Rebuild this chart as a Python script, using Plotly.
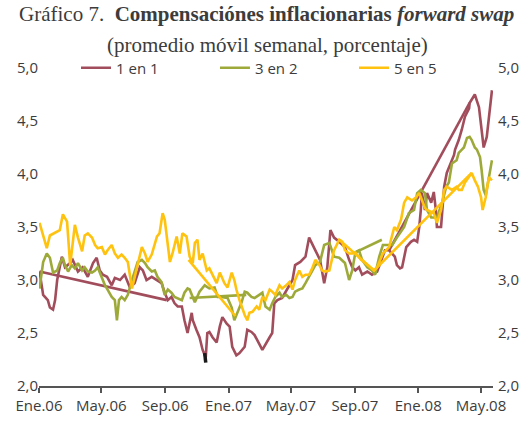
"""Gráfico 7: compensaciones inflacionarias forward swap"""
import plotly.graph_objects as go

# ---------------- datos ----------------
fechas_1en1 = [
    "2006-01-02", "2006-01-09", "2006-01-18", "2006-01-22", "2006-01-28", "2006-02-01", "2006-02-05",
    "2006-02-14", "2006-02-20", "2006-03-02", "2006-03-07", "2006-03-17", "2006-03-26", "2006-04-05",
    "2006-04-15", "2006-04-22", "2006-04-28", "2006-05-04", "2006-05-12", "2006-05-21", "2006-05-27",
    "2006-06-06", "2006-06-15", "2006-06-25", "2006-07-04", "2006-07-14", "2006-07-20", "2006-07-27",
    "2006-08-06", "2006-08-16", "2006-08-25", "2006-08-31", "2006-09-06", "2006-09-13", "2006-09-19",
    "2006-09-25", "2006-10-03", "2006-10-08", "2006-10-14", "2006-10-22", "2006-10-24", "2006-10-31",
    "2006-11-06", "2006-11-12", "2006-11-18", "2006-11-21", "2006-11-25", "2006-12-01", "2006-12-09",
    "2006-12-15", "2006-12-20", "2006-12-28", "2007-01-03", "2007-01-08", "2007-01-16", "2007-01-22",
    "2007-02-01", "2007-02-06", "2007-02-14", "2007-02-20", "2007-02-25", "2007-03-07", "2007-03-21",
    "2007-03-26", "2007-03-30", "2007-04-05", "2007-04-14", "2007-04-24", "2007-05-04", "2007-05-09",
    "2007-05-19", "2007-05-29", "2007-06-05", "2007-06-17", "2007-06-26", "2007-07-04", "2007-07-10",
    "2007-07-16", "2007-07-23", "2007-08-02", "2007-08-08", "2007-08-13", "2007-08-21", "2007-08-27",
    "2007-09-02", "2007-09-09", "2007-09-15", "2007-09-25", "2007-10-04", "2007-10-14", "2007-10-23",
    "2007-10-29", "2007-11-06", "2007-11-12", "2007-11-17", "2007-11-21", "2007-11-27", "2007-12-01",
    "2007-12-09", "2007-12-18", "2007-12-24", "2007-12-30", "2008-01-03", "2008-01-06", "2008-01-08",
    "2008-01-14", "2008-01-18", "2008-01-26", "2008-01-31", "2008-02-04", "2008-02-06", "2008-02-14",
    "2008-02-16", "2008-02-20", "2008-02-25", "2008-03-04", "2008-03-10", "2008-03-12", "2008-03-19",
    "2008-03-25", "2008-03-31", "2008-04-08", "2008-04-09", "2008-04-19", "2008-04-27", "2008-05-02",
    "2008-05-06", "2008-05-12", "2008-05-16", "2008-05-22",
]
valores_1en1 = [
    3.08, 2.86, 2.81, 2.74, 2.72, 2.81, 3.00,
    3.22, 3.12, 3.16, 3.19, 3.08, 3.12, 3.03,
    3.16, 3.21, 3.09, 3.05, 3.03, 2.95, 3.02,
    3.00, 3.05, 2.93, 2.97, 3.12, 3.09, 3.00,
    3.03, 3.00, 2.97, 2.88, 2.81, 2.84, 2.78,
    2.75, 2.75, 2.62, 2.50, 2.69, 2.62, 2.53,
    2.46, 2.34, 2.27, 2.50, 2.51, 2.46, 2.41,
    2.56, 2.65, 2.59, 2.56, 2.37, 2.29, 2.31,
    2.37, 2.53, 2.51, 2.48, 2.43, 2.34, 2.46,
    2.50, 2.78, 2.81, 2.83, 2.91, 3.00, 3.14,
    3.17, 3.22, 3.40, 3.28, 3.19, 2.97, 3.12,
    3.47, 3.40, 3.36, 3.33, 3.31, 3.19, 3.12,
    3.09, 3.12, 3.05, 3.08, 3.05, 3.08, 3.20,
    3.28, 3.28, 3.25, 3.22, 3.14, 3.11, 3.12,
    3.31, 3.36, 3.38, 3.36, 3.50, 3.66, 3.82,
    3.66, 3.82, 3.73, 3.83, 3.66, 3.50, 3.50,
    3.66, 3.88, 4.01, 4.10, 4.18, 4.23, 4.32,
    4.42, 4.54, 4.62, 4.67, 4.75, 4.63, 4.42,
    4.25, 4.35, 4.54, 4.79,
]
# tramos rectos que aparecen en el original (datos fuera de orden)
saltos_1en1_fechas = [["2006-01-02", "2006-09-04"], ["2007-11-06", "2008-04-09"]]
saltos_1en1_valores = [[3.08, 2.81], [3.28, 4.67]]

fechas_3en2 = [
    "2006-01-02", "2006-01-09", "2006-01-16", "2006-01-22", "2006-01-28", "2006-02-05", "2006-02-10",
    "2006-02-16", "2006-02-20", "2006-02-26", "2006-03-05", "2006-03-11", "2006-03-17", "2006-03-25",
    "2006-03-30", "2006-04-05", "2006-04-13", "2006-04-19", "2006-04-24", "2006-05-02", "2006-05-08",
    "2006-05-13", "2006-05-21", "2006-05-27", "2006-05-31", "2006-06-04", "2006-06-09", "2006-06-15",
    "2006-06-21", "2006-06-29", "2006-07-04", "2006-07-10", "2006-07-18", "2006-07-24", "2006-07-29",
    "2006-08-06", "2006-08-12", "2006-08-17", "2006-08-25", "2006-08-31", "2006-09-06", "2006-09-13",
    "2006-09-19", "2006-09-25", "2006-10-03", "2006-10-08", "2006-10-14", "2006-10-18", "2006-10-28",
    "2006-11-06", "2006-11-16", "2006-11-25", "2006-12-05", "2006-12-11", "2006-12-18", "2006-12-30",
    "2007-01-07", "2007-01-12", "2007-01-18", "2007-01-26", "2007-02-01", "2007-02-06", "2007-02-14",
    "2007-02-20", "2007-03-01", "2007-03-07", "2007-03-13", "2007-03-21", "2007-03-26", "2007-04-01",
    "2007-04-09", "2007-04-14", "2007-04-22", "2007-04-28", "2007-05-04", "2007-05-09", "2007-05-17",
    "2007-05-23", "2007-05-29", "2007-06-05", "2007-06-11", "2007-06-17", "2007-06-26", "2007-07-04",
    "2007-07-14", "2007-07-23", "2007-08-02", "2007-08-13", "2007-08-21", "2007-08-27", "2007-09-02",
    "2007-09-09", "2007-09-15", "2007-09-25", "2007-10-04", "2007-10-10", "2007-10-18", "2007-10-25",
    "2007-11-06", "2007-11-12", "2007-11-21", "2007-12-05", "2007-12-14", "2007-12-24", "2007-12-30",
    "2008-01-06", "2008-01-14", "2008-01-18", "2008-01-26", "2008-02-06", "2008-02-16", "2008-02-24",
    "2008-02-29", "2008-03-06", "2008-03-15", "2008-03-19", "2008-03-25", "2008-03-29", "2008-04-04",
    "2008-04-09", "2008-04-13", "2008-04-19", "2008-04-23", "2008-04-29", "2008-05-02", "2008-05-06",
    "2008-05-10", "2008-05-16", "2008-05-22",
]
valores_3en2 = [
    2.92, 3.17, 3.25, 3.21, 3.07, 3.09, 3.16,
    3.21, 3.14, 3.08, 3.14, 3.11, 3.16, 3.09,
    3.12, 3.08, 3.07, 3.09, 3.12, 3.02, 2.95,
    2.91, 2.84, 2.81, 2.62, 2.81, 2.84, 2.81,
    2.86, 3.00, 3.07, 3.17, 3.19, 3.16, 3.12,
    3.08, 3.09, 3.03, 2.98, 2.86, 2.91, 2.88,
    2.84, 2.83, 2.81, 2.88, 2.92, 2.91, 2.79,
    2.89, 2.95, 2.92, 2.93, 2.84, 2.84, 2.83,
    2.74, 2.62, 2.69, 2.79, 2.89, 2.88, 2.84,
    2.83, 2.86, 2.88, 2.75, 2.72, 2.78, 2.84,
    2.88, 2.84, 2.86, 2.83, 2.84, 2.89, 2.91,
    2.92, 2.97, 3.03, 3.09, 3.14, 3.17, 3.33,
    3.35, 3.22, 3.21, 3.16, 3.00, 3.09, 3.26,
    3.28, 3.19, 3.12, 3.09, 3.05, 3.22, 3.33,
    3.33, 3.33, 3.40, 3.50, 3.63, 3.66, 3.82,
    3.85, 3.82, 3.66, 3.59, 3.59, 3.73, 3.88,
    3.92, 4.10, 4.13, 4.20, 4.23, 4.25, 4.34,
    4.35, 4.32, 4.25, 4.23, 4.16, 4.04, 3.85,
    3.80, 3.97, 4.13,
]
saltos_3en2_fechas = [["2006-10-18", "2007-02-04"], ["2007-09-02", "2007-10-23"]]
saltos_3en2_valores = [[2.83, 2.86], [3.26, 3.38]]

fechas_5en5 = [
    "2006-01-02", "2006-01-09", "2006-01-16", "2006-01-22", "2006-02-01", "2006-02-10", "2006-02-16",
    "2006-02-24", "2006-03-02", "2006-03-07", "2006-03-11", "2006-03-17", "2006-03-25", "2006-03-30",
    "2006-04-05", "2006-04-13", "2006-04-19", "2006-04-24", "2006-05-02", "2006-05-08", "2006-05-13",
    "2006-05-21", "2006-05-27", "2006-06-02", "2006-06-09", "2006-06-15", "2006-06-21", "2006-06-29",
    "2006-07-04", "2006-07-10", "2006-07-18", "2006-07-24", "2006-07-29", "2006-08-06", "2006-08-16",
    "2006-08-21", "2006-08-27", "2006-08-31", "2006-09-06", "2006-09-10", "2006-09-15", "2006-09-23",
    "2006-09-29", "2006-10-04", "2006-10-12", "2006-10-18", "2006-10-24", "2006-10-28", "2006-11-02",
    "2006-11-06", "2006-11-12", "2006-11-20", "2006-11-25", "2006-12-01", "2006-12-09", "2006-12-15",
    "2006-12-20", "2006-12-24", "2006-12-30", "2007-01-07", "2007-01-12", "2007-01-16", "2007-01-22",
    "2007-01-26", "2007-02-01", "2007-02-06", "2007-02-10", "2007-02-16", "2007-02-24", "2007-03-01",
    "2007-03-07", "2007-03-13", "2007-03-21", "2007-03-26", "2007-04-01", "2007-04-09", "2007-04-14",
    "2007-04-22", "2007-04-28", "2007-05-04", "2007-05-09", "2007-05-17", "2007-05-23", "2007-05-29",
    "2007-06-05", "2007-06-11", "2007-06-17", "2007-06-25", "2007-06-30", "2007-07-06", "2007-07-14",
    "2007-07-23", "2007-08-02", "2007-08-08", "2007-08-13", "2007-08-21", "2007-08-27", "2007-09-02",
    "2007-09-13", "2007-09-21", "2007-09-30", "2007-10-08", "2007-10-14", "2007-10-25", "2007-11-06",
    "2007-11-16", "2007-11-21", "2007-11-29", "2007-12-05", "2007-12-11", "2007-12-20", "2007-12-28",
    "2008-01-03", "2008-01-14", "2008-01-18", "2008-01-31", "2008-02-06", "2008-02-14", "2008-02-20",
    "2008-02-25", "2008-03-06", "2008-03-15", "2008-03-19", "2008-03-25", "2008-03-31", "2008-04-08",
    "2008-04-13", "2008-04-19", "2008-04-25", "2008-05-01", "2008-05-04", "2008-05-10", "2008-05-16",
    "2008-05-22",
]
valores_5en5 = [
    3.54, 3.41, 3.30, 3.42, 3.45, 3.47, 3.62,
    3.55, 3.14, 3.33, 3.52, 3.40, 3.27, 3.42,
    3.44, 3.40, 3.33, 3.30, 3.31, 3.24, 3.28,
    3.33, 3.25, 3.21, 3.24, 3.21, 3.17, 2.92,
    3.02, 3.14, 3.31, 3.25, 3.17, 3.24, 3.41,
    3.44, 3.63, 3.57, 3.35, 3.17, 3.25, 3.41,
    3.25, 3.44, 3.41, 3.22, 3.16, 3.35, 3.38,
    3.19, 3.25, 3.09, 3.11, 3.05, 2.97, 3.07,
    3.02, 2.97, 2.93, 3.07, 3.00, 2.91, 2.81,
    2.75, 2.67, 2.62, 2.69, 2.70, 2.75, 2.72,
    2.84, 2.81, 2.91, 2.89, 2.86, 2.95, 2.92,
    2.95, 2.98, 2.91, 3.00, 3.09, 3.03, 3.05,
    3.05, 3.11, 3.19, 3.14, 3.09, 3.08, 3.09,
    3.28, 3.38, 3.36, 3.28, 3.25, 3.25, 3.26,
    3.19, 3.16, 3.12, 3.09, 3.12, 3.25, 3.31,
    3.50, 3.47, 3.57, 3.73, 3.78, 3.75, 3.78,
    3.82, 3.68, 3.66, 3.63, 3.54, 3.66, 3.85,
    3.88, 3.85, 3.88, 3.85, 3.85, 3.92, 3.97,
    4.01, 3.94, 3.88, 3.78, 3.66, 3.78, 3.97,
    3.94,
]
saltos_5en5_fechas = [["2006-10-16", "2007-01-14"], ["2007-08-02", "2007-10-08", "2008-04-13"]]
saltos_5en5_valores = [[3.19, 2.66], [3.38, 3.09, 4.01]]

# pequeña marca negra que aparece en la serie 1 en 1
fechas_marca = ["2006-11-16", "2006-11-18"]
valores_marca = [2.31, 2.22]

tick_fechas = ["2006-01-01", "2006-05-01", "2006-09-01", "2007-01-01",
               "2007-05-01", "2007-09-01", "2008-01-01", "2008-05-01"]
tick_textos = ["Ene.06", "May.06", "Sep.06", "Ene.07", "May.07", "Sep.07", "Ene.08", "May.08"]

series = [
    ("1 en 1", fechas_1en1, valores_1en1, saltos_1en1_fechas, saltos_1en1_valores, "#A24D5C"),
    ("3 en 2", fechas_3en2, valores_3en2, saltos_3en2_fechas, saltos_3en2_valores, "#9DAA3A"),
    ("5 en 5", fechas_5en5, valores_5en5, saltos_5en5_fechas, saltos_5en5_valores, "#FFC20E"),
]
leyenda_x = [0.1445, 0.4087, 0.673]   # una leyenda por serie, en fila

TXT = "#3c3c3c"
SANS = "Open Sans, Noto Sans, sans-serif"
SERIF = "Liberation Serif, DejaVu Serif, serif"


def _con_saltos(fechas, valores, saltos_f, saltos_v):
    xs, ys = list(fechas), list(valores)
    for sf, sv in zip(saltos_f, saltos_v):
        xs += [None] + sf
        ys += [None] + sv
    return xs, ys


fig = go.Figure()
leyendas = {}
for i, (nombre, f, v, sf, sv, color) in enumerate(series):
    xs, ys = _con_saltos(f, v, sf, sv)
    ref = "legend" if i == 0 else f"legend{i + 1}"
    fig.add_trace(go.Scatter(x=xs, y=ys, mode="lines", name=nombre, legend=ref,
                             line=dict(color=color, width=2.6), connectgaps=False))
    leyendas[ref] = dict(orientation="h", xref="container", x=leyenda_x[i], xanchor="left",
                         y=1.0, yanchor="middle", bgcolor="rgba(0,0,0,0)",
                         font=dict(family=SANS, size=15, color=TXT))

fig.add_trace(go.Scatter(x=fechas_marca, y=valores_marca, mode="lines", showlegend=False,
                         line=dict(color="#1a1a1a", width=3.5)))
# eje derecho (solo etiquetas)
fig.add_trace(go.Scatter(x=[fechas_1en1[0]], y=[valores_1en1[0]], yaxis="y2", mode="lines",
                         showlegend=False, hoverinfo="skip", line=dict(width=0)))

fig.add_annotation(text="Gráfico 7.  <b>Compensaciónes inflacionarias <i>forward swap</i></b>",
                   xref="paper", yref="paper", x=0.5, y=1.0, yshift=54,
                   xanchor="center", yanchor="middle", showarrow=False,
                   font=dict(family=SERIF, size=21, color=TXT))
fig.add_annotation(text="(promedio móvil semanal, porcentaje)",
                   xref="paper", yref="paper", x=0.504, y=1.0, yshift=23,
                   xanchor="center", yanchor="middle", showarrow=False,
                   font=dict(family=SERIF, size=21, color=TXT))

fig.update_layout(
    width=526, height=421,
    margin=dict(l=39, r=33, t=68, b=35, autoexpand=False),
    paper_bgcolor="white", plot_bgcolor="white",
    separators=",.",
    showlegend=True,
    **leyendas,
    xaxis=dict(type="date", range=["2006-01-01", "2008-05-24"], automargin=False,
               tickvals=tick_fechas, ticktext=tick_textos,
               showgrid=False, zeroline=False,
               showline=True, linecolor="#555555", linewidth=1.5,
               ticks="outside", ticklen=5, tickcolor="#555555", tickwidth=1.5,
               tickfont=dict(family=SANS, size=15, color=TXT)),
    yaxis=dict(range=[2, 5], dtick=0.5, tickformat=".1f", showgrid=False, zeroline=False,
               automargin=False, showline=False, ticks="",
               tickfont=dict(family=SANS, size=15, color=TXT)),
    yaxis2=dict(range=[2, 5], dtick=0.5, tickformat=".1f", overlaying="y", side="right",
                automargin=False, showgrid=False, zeroline=False, showline=False, ticks="",
                ticklabelstandoff=4,
                tickfont=dict(family=SANS, size=15, color=TXT)),
)

# la página trae margen por defecto en <body>; se quita para que el lienzo quede en 0,0
fig.write_html("out.html", config={"displayModeBar": False},
               post_script="document.body.style.margin='0';")
